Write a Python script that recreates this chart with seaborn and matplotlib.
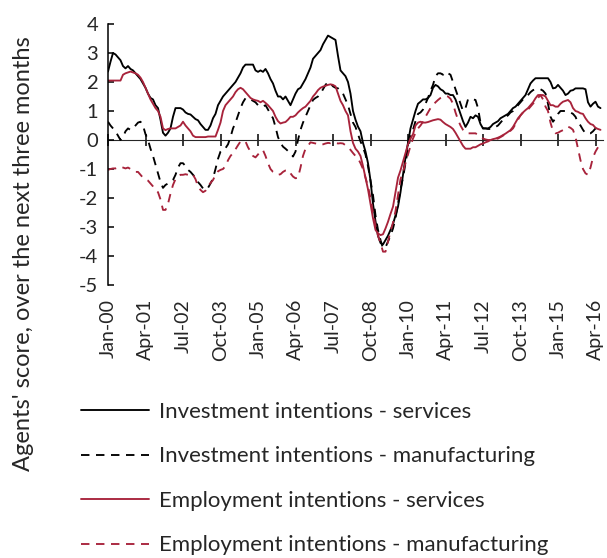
import numpy as np
import pandas as pd
import matplotlib
matplotlib.use("Agg")
import matplotlib.pyplot as plt
import seaborn as sns

# monthly scores, Jan-00 .. Jun-16
inv_services = [
    2.36, 2.7, 3.0, 2.95, 2.85, 2.75, 2.55, 2.47, 2.55, 2.45, 2.4, 2.3,
    2.2, 2.1, 1.95, 1.8, 1.6, 1.45, 1.4, 1.2, 1.1, 0.7, 0.25, 0.15,
    0.25, 0.4, 0.8, 1.1, 1.1, 1.1, 1.05, 0.95, 0.9, 0.88, 0.8, 0.72,
    0.68, 0.55, 0.45, 0.35, 0.35, 0.5, 0.75, 0.9, 1.2, 1.35, 1.5, 1.6,
    1.7, 1.8, 1.9, 2.0, 2.15, 2.3, 2.5, 2.6, 2.6, 2.6, 2.6, 2.4,
    2.35, 2.4, 2.35, 2.45, 2.3, 2.1, 1.95, 1.7, 1.5, 1.5, 1.4, 1.5,
    1.35, 1.2, 1.4, 1.6, 1.75, 1.8, 1.95, 2.1, 2.3, 2.5, 2.8, 2.9,
    3.0, 3.1, 3.3, 3.45, 3.6, 3.55, 3.5, 3.45, 2.9, 2.4, 2.3, 2.2,
    2.0, 1.6, 1.0, 0.7, 0.46, 0.3, -0.1, -0.4, -0.8, -1.4, -2.2, -2.8,
    -3.3, -3.55, -3.6, -3.45, -3.3, -3.1, -2.9, -2.6, -2.3, -1.8, -1.2, -0.6,
    -0.1, 0.4, 0.7, 1.0, 1.25, 1.32, 1.4, 1.4, 1.45, 1.55, 1.8, 1.9,
    1.85, 1.75, 1.7, 1.6, 1.6, 1.55, 1.55, 1.4, 1.15, 0.9, 0.65, 0.45,
    0.6, 0.8, 0.75, 0.85, 0.8, 0.55, 0.4, 0.4, 0.4, 0.45, 0.55, 0.6,
    0.65, 0.75, 0.8, 0.85, 0.9, 1.0, 1.1, 1.15, 1.25, 1.35, 1.45, 1.55,
    1.75, 1.95, 2.05, 2.13, 2.13, 2.13, 2.13, 2.13, 2.13, 2.0, 1.78, 1.8,
    1.9, 1.8, 1.7, 1.55, 1.6, 1.7, 1.72, 1.78, 1.78, 1.78, 1.78, 1.75,
    1.3, 1.15, 1.25, 1.32, 1.15, 1.1,
]
inv_manufacturing = [
    0.63, 0.5, 0.4, 0.3, 0.15, 0.0, 0.1, 0.3, 0.4, 0.35, 0.4, 0.5,
    0.6, 0.63, 0.5, 0.2, 0.0, -0.3, -0.55, -0.85, -1.15, -1.45, -1.65, -1.55,
    -1.5, -1.45, -1.38, -1.2, -0.95, -0.8, -0.8, -0.9, -1.03, -1.1, -1.2, -1.3,
    -1.45, -1.55, -1.67, -1.72, -1.65, -1.5, -1.32, -1.0, -0.65, -0.4, -0.3, -0.28,
    -0.15, 0.1, 0.4, 0.6, 0.85, 1.1, 1.3, 1.44, 1.45, 1.4, 1.35, 1.3,
    1.2, 1.15, 1.15, 1.2, 1.05, 0.9, 0.75, 0.45, 0.1, -0.1, -0.23, -0.3,
    -0.38, -0.45, -0.57, -0.4, 0.0, 0.35, 0.6, 0.8, 1.0, 1.2, 1.38, 1.45,
    1.5, 1.6, 1.75, 1.9, 2.0, 1.95, 1.85, 1.8, 1.78, 1.7, 1.6, 1.4,
    1.2, 0.9, 0.6, 0.45, 0.2, -0.05, -0.25, -0.5, -0.9, -1.4, -1.9, -2.6,
    -3.1, -3.45, -3.74, -3.7, -3.5, -3.3, -3.05, -2.7, -2.2, -1.7, -1.3, -0.8,
    -0.3, 0.1, 0.35, 0.65, 0.9, 0.95, 1.05, 1.25, 1.45, 1.7, 1.9, 2.2,
    2.3, 2.3, 2.25, 2.35, 2.3, 2.25, 2.0, 1.75, 1.5, 1.25, 1.0, 1.1,
    1.4, 1.44, 1.4, 1.38, 1.1, 0.6, 0.4, 0.4, 0.38, 0.38, 0.4, 0.45,
    0.5, 0.6, 0.7, 0.8, 0.85, 0.95, 1.0, 1.1, 1.2, 1.3, 1.4, 1.45,
    1.55, 1.65, 1.72, 1.75, 1.76, 1.75, 1.7, 1.6, 1.25, 0.8, 0.63, 0.75,
    0.9, 1.0, 1.0, 1.0, 0.98, 0.95, 0.9, 0.8, 0.6, 0.5, 0.35, 0.23,
    0.23, 0.23, 0.3, 0.4, 0.42, 0.45,
]
emp_services = [
    2.05, 2.05, 2.05, 2.05, 2.05, 2.05, 2.25, 2.3, 2.33, 2.36, 2.33, 2.3,
    2.25, 2.15, 2.0, 1.8, 1.6, 1.4, 1.25, 1.1, 1.0, 0.8, 0.4, 0.34,
    0.38, 0.4, 0.4, 0.4, 0.45, 0.5, 0.63, 0.5, 0.4, 0.3, 0.15, 0.1,
    0.1, 0.1, 0.1, 0.1, 0.12, 0.12, 0.12, 0.12, 0.35, 0.6, 1.0, 1.2,
    1.3, 1.4, 1.5, 1.65, 1.75, 1.8, 1.75, 1.65, 1.55, 1.45, 1.4, 1.37,
    1.35, 1.3, 1.35, 1.28, 1.2, 1.1, 1.0, 0.8, 0.65, 0.57, 0.6, 0.62,
    0.7, 0.8, 0.8, 0.85, 0.95, 1.03, 1.1, 1.15, 1.25, 1.35, 1.5, 1.6,
    1.72, 1.8, 1.84, 1.87, 1.9, 1.92, 1.9, 1.85, 1.6, 1.35, 1.2, 1.0,
    0.85, 0.3, -0.1, -0.3, -0.4, -0.55, -0.9, -1.3, -1.7, -2.2, -2.7, -3.1,
    -3.22, -3.28, -3.25, -3.05, -2.82, -2.55, -2.3, -1.8, -1.3, -1.05, -0.75, -0.45,
    -0.15, 0.05, 0.2, 0.5, 0.6, 0.63, 0.6, 0.6, 0.62, 0.65, 0.68, 0.7,
    0.72, 0.7, 0.62, 0.55, 0.5, 0.45, 0.38, 0.25, 0.1, -0.05, -0.2, -0.3,
    -0.3, -0.3, -0.25, -0.25, -0.2, -0.15, -0.12, -0.08, -0.05, 0.0, 0.03, 0.05,
    0.08, 0.12, 0.17, 0.22, 0.28, 0.34, 0.45, 0.6, 0.75, 0.85, 0.95, 1.03,
    1.1, 1.2, 1.3, 1.44, 1.55, 1.55, 1.55, 1.5, 1.35, 1.2, 1.2, 1.15,
    1.15, 1.25, 1.32, 1.35, 1.38, 1.3, 1.1, 1.0, 0.97, 0.92, 0.9, 0.75,
    0.63, 0.55, 0.52, 0.42, 0.38, 0.35,
]
emp_manufacturing = [
    -1.03, -1.0, -0.98, -0.98, -0.95, -0.92, -0.95, -0.98, -0.95, -1.0, -1.05, -1.1,
    -1.1, -1.2, -1.3, -1.35, -1.4, -1.5, -1.6, -1.72, -1.8, -2.05, -2.41, -2.41,
    -2.2, -1.85, -1.55, -1.35, -1.25, -1.2, -1.2, -1.18, -1.2, -1.15, -1.2, -1.35,
    -1.6, -1.72, -1.8, -1.75, -1.6, -1.48, -1.38, -1.2, -1.08, -1.03, -1.0, -0.9,
    -0.7, -0.55, -0.45, -0.32, -0.18, -0.05, -0.03, -0.05, -0.25, -0.4, -0.55, -0.6,
    -0.5, -0.38, -0.35, -0.55, -0.8, -1.0, -1.1, -1.15, -1.2, -1.18, -1.1, -1.05,
    -1.03, -1.15, -1.26, -1.32, -1.3, -0.95, -0.55, -0.3, -0.2, -0.08, -0.1, -0.12,
    -0.15, -0.17, -0.15, -0.12, -0.1, -0.11, -0.08, -0.1, -0.12, -0.11, -0.12, -0.18,
    -0.25, -0.34, -0.45, -0.55, -0.63, -0.8, -1.0, -1.3, -1.6, -2.0, -2.5, -2.95,
    -3.3, -3.55, -3.85, -3.85, -3.5, -3.15, -2.85, -2.45, -1.9, -1.35, -1.1, -0.8,
    -0.5, -0.2, 0.05, 0.25, 0.4, 0.5, 0.63, 0.8, 0.95, 1.1, 1.2, 1.3,
    1.38, 1.45, 1.5, 1.52, 1.5, 1.42, 1.25, 0.95, 0.7, 0.5, 0.35, 0.25,
    0.23, 0.23, 0.23, 0.23, 0.18, 0.1, 0.05, 0.02, 0.0, 0.0, 0.02, 0.03,
    0.05, 0.1, 0.15, 0.22, 0.29, 0.32, 0.4, 0.55, 0.7, 0.85, 0.95, 1.0,
    1.05, 1.15, 1.25, 1.35, 1.45, 1.55, 1.4, 1.15, 1.0, 0.6, 0.3, 0.23,
    0.25, 0.3, 0.34, 0.4, 0.46, 0.42, 0.35, 0.1, -0.3, -0.7, -1.0, -1.15,
    -1.2, -0.95, -0.6, -0.4, -0.25, -0.2,
]
tick_labels = ["Jan-00", "Apr-01", "Jul-02", "Oct-03", "Jan-05", "Apr-06", "Jul-07",
               "Oct-08", "Jan-10", "Apr-11", "Jul-12", "Oct-13", "Jan-15", "Apr-16"]
series_names = ["Investment intentions - services",
                "Investment intentions - manufacturing",
                "Employment intentions - services",
                "Employment intentions - manufacturing"]

RED = "#A8233B"

sns.set_style("white")
plt.rcParams["font.family"] = ["Lato", "DejaVu Sans"]
plt.rcParams["font.size"] = 13.5

month = np.arange(len(inv_services))
df = pd.DataFrame({"month": month,
                   series_names[0]: inv_services,
                   series_names[1]: inv_manufacturing,
                   series_names[2]: emp_services,
                   series_names[3]: emp_manufacturing})
long = df.melt(id_vars="month", var_name="series", value_name="score")

fig = plt.figure(figsize=(6.07, 5.58), dpi=100)
ax = fig.add_axes([108 / 607, 1 - 285 / 558, 495 / 607, 261 / 558])

styles = {
    series_names[0]: ("black", "-"),
    series_names[1]: ("black", (0, (4.5, 3.5))),
    series_names[2]: (RED, "-"),
    series_names[3]: (RED, (0, (4.5, 3.5))),
}
for name in series_names:
    color, ls = styles[name]
    sns.lineplot(data=long[long["series"] == name], x="month", y="score",
                 ax=ax, color=color, linestyle=ls, linewidth=1.35, label=name)

ax.set_xlim(0, 198)
ax.set_ylim(-5, 4)
ax.set_yticks(range(-5, 5))
ax.set_yticklabels([str(v) for v in range(-5, 5)])
ax.tick_params(axis="y", left=True, direction="in", length=4.5, width=1.1,
               pad=7, labelsize=14.5, color="black")
ax.set_xlabel("")
ax.set_ylabel("")

# category labels at the bottom, tick marks on the zero line
ticks = month[::15]
ax.set_xticks(ticks)
ax.set_xticklabels(tick_labels, rotation=90)
ax.tick_params(axis="x", bottom=False, length=0, pad=10, labelsize=14)
for s in ["top", "right", "bottom"]:
    ax.spines[s].set_visible(False)
ax.spines["left"].set_linewidth(1.1)
ax.spines["left"].set_color("black")

zero = ax.secondary_xaxis(5 / 9)
zero.set_xticks(ticks)
zero.set_xticklabels([])
zero.tick_params(bottom=True, direction="out", length=4, width=1.1, color="black")
zero.spines["bottom"].set_linewidth(1.1)
zero.spines["bottom"].set_color("black")

handles, labels = ax.get_legend_handles_labels()
ax.get_legend().remove()
fig.legend(handles, labels, loc="upper left", bbox_to_anchor=(81 / 607, 1 - 402 / 558),
           frameon=False, handlelength=3.05, handletextpad=0.45, labelspacing=1.1,
           borderpad=0, borderaxespad=0, fontsize=16)

fig.text(24 / 607, 1 - 254 / 558, "Agents' score, over the next three months",
         rotation=90, ha="center", va="center", fontsize=17)

fig.savefig("out.png", dpi=100)
